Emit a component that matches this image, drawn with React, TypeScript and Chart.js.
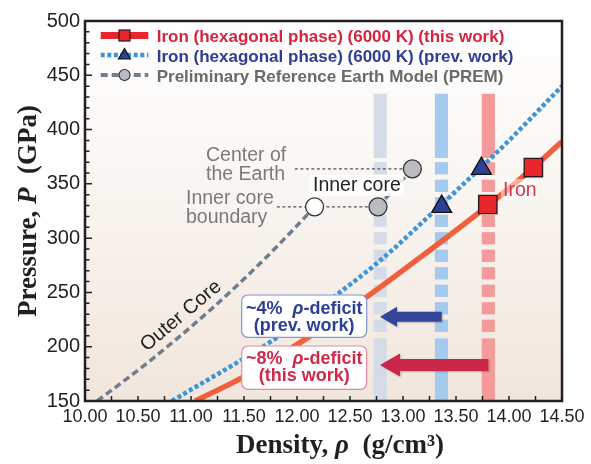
import React, { useEffect, useRef } from 'react';
import { Chart, registerables } from 'chart.js';

Chart.register(...registerables);

// ---------- axes ----------
const X_MIN = 10.0;
const X_MAX = 14.5;
const X_STEP = 0.5;
const X_MINOR_STEP = 0.25;
const Y_MIN = 150;
const Y_MAX = 500;
const Y_STEP = 50;
const Y_MINOR_STEP = 10;

// ---------- series (density g/cm3, pressure GPa) ----------
const IRON_THIS_RHO = [11.04, 11.51, 12.08, 12.66, 13.2, 13.8, 14.23, 14.5];
const IRON_THIS_P = [150, 173, 207, 246, 285, 330, 365, 389];

const IRON_PREV_RHO = [10.82, 11.82, 12.59, 12.91, 13.22, 13.54, 13.98, 14.5];
const IRON_PREV_P = [150, 209, 264, 290, 318, 347, 388, 440];

const PREM_OUTER_RHO = [10.115, 10.6, 11.19, 11.655, 12.01, 12.166];
const PREM_OUTER_P = [150, 186, 234.5, 277, 312.5, 328.85];

const PREM_INNER_RHO = [12.764, 13.0885];
const PREM_INNER_P = [328.85, 363.85];

const IRON_THIS_MARK_RHO = [13.8, 14.23];
const IRON_THIS_MARK_P = [331, 365];
const IRON_PREV_MARK_RHO = [13.365, 13.74];
const IRON_PREV_MARK_P = [329, 364];
const PREM_MARK_RHO = [12.764, 13.0885];
const PREM_MARK_P = [328.85, 363.85];
const PREM_ICB_OUTER_RHO = [12.166];
const PREM_ICB_OUTER_P = [328.85];

// leader lines from the labels
const LEADER_CENTER_RHO = [11.98, 13.0885];
const LEADER_CENTER_P = [363.85, 363.85];
const LEADER_ICB_RHO = [11.81, 12.764];
const LEADER_ICB_P = [328.85, 328.85];

// vertical density bands (PREM inner core, prev. work, this work)
const BAND_RHO = [12.785, 13.363, 13.805];
const BAND_HALF_WIDTH = 0.062;
const BAND_TOP_P = 433;
const BAND_DASH_TOP_P = 370;
const BAND_DASH_BOTTOM_P = 212;
const BAND_SOLID1_END_P = 373.8;
const BAND_SOLID2_START_P = 207.7;

// deficit arrows
const ARROW_TIP_RHO = 12.783;
const ARROW_TAIL_RHO = [13.365, 13.805];
const ARROW_P = [227.6, 183.2];

const LEGEND_LABELS = [
  'Iron (hexagonal phase) (6000 K) (this work)',
  'Iron (hexagonal phase) (6000 K) (prev. work)',
  'Preliminary Reference Earth Model (PREM)',
];

const SANS = '"Liberation Sans", Arial, Helvetica, sans-serif';
const SERIF = '"Liberation Serif", "Times New Roman", Times, serif';

const C_RED_LINE = '#f0603e';
const C_RED_MARK = '#e8262b';
const C_BLUE_LINE = '#3b95dc';
const C_BLUE_MARK = '#2f3f96';
const C_PREM = '#6e7e8e';

function pts(r: number[], p: number[]) {
  return r.map((v, i) => ({ x: v, y: p[i] }));
}

type Part = { t: string; font: string; color?: string };

function drawRich(ctx: CanvasRenderingContext2D, parts: Part[], x: number, y: number, align: 'left' | 'center', color: string) {
  let w = 0;
  for (const p of parts) {
    ctx.font = p.font;
    w += ctx.measureText(p.t).width;
  }
  let cx = align === 'center' ? x - w / 2 : x;
  ctx.textAlign = 'left';
  ctx.textBaseline = 'alphabetic';
  for (const p of parts) {
    ctx.font = p.font;
    ctx.fillStyle = p.color || color;
    ctx.fillText(p.t, cx, y);
    cx += ctx.measureText(p.t).width;
  }
  return w;
}

function roundRect(ctx: CanvasRenderingContext2D, x: number, y: number, w: number, h: number, r: number) {
  ctx.beginPath();
  ctx.moveTo(x + r, y);
  ctx.lineTo(x + w - r, y);
  ctx.arcTo(x + w, y, x + w, y + r, r);
  ctx.lineTo(x + w, y + h - r);
  ctx.arcTo(x + w, y + h, x + w - r, y + h, r);
  ctx.lineTo(x + r, y + h);
  ctx.arcTo(x, y + h, x, y + h - r, r);
  ctx.lineTo(x, y + r);
  ctx.arcTo(x, y, x + r, y, r);
  ctx.closePath();
}

function drawArrow(ctx: CanvasRenderingContext2D, tail: number, tip: number, y: number, shaft: number, head: number, headLen: number, color: string) {
  ctx.save();
  ctx.shadowColor = 'rgba(0,0,0,0.25)';
  ctx.shadowBlur = 2;
  ctx.shadowOffsetX = 1;
  ctx.shadowOffsetY = 1;
  ctx.fillStyle = color;
  ctx.beginPath();
  ctx.moveTo(tail, y - shaft / 2);
  ctx.lineTo(tip + headLen, y - shaft / 2);
  ctx.lineTo(tip + headLen, y - head / 2);
  ctx.lineTo(tip, y);
  ctx.lineTo(tip + headLen, y + head / 2);
  ctx.lineTo(tip + headLen, y + shaft / 2);
  ctx.lineTo(tail, y + shaft / 2);
  ctx.closePath();
  ctx.fill();
  ctx.restore();
}

const overlay = {
  id: 'overlay',
  beforeDraw(chart: any) {
    const { ctx, chartArea: a } = chart;
    const g = ctx.createLinearGradient(0, a.top, 0, a.bottom);
    g.addColorStop(0, '#ffffff');
    g.addColorStop(0.45, '#f9f5f1');
    g.addColorStop(1, '#f1e6dc');
    ctx.save();
    ctx.fillStyle = g;
    ctx.fillRect(a.left, a.top, a.right - a.left, a.bottom - a.top);
    ctx.restore();
  },
  beforeDatasetsDraw(chart: any) {
    const { ctx } = chart;
    const xs = chart.scales.x;
    const ys = chart.scales.y;
    const colors = ['#d4dde7', '#a4caed', '#f49a9a'];
    ctx.save();
    BAND_RHO.forEach((c, i) => {
      const x0 = xs.getPixelForValue(c - BAND_HALF_WIDTH);
      const x1 = xs.getPixelForValue(c + BAND_HALF_WIDTH);
      ctx.fillStyle = colors[i];
      const yTop = ys.getPixelForValue(BAND_TOP_P);
      const y1 = ys.getPixelForValue(BAND_SOLID1_END_P);
      ctx.fillRect(x0, yTop, x1 - x0, y1 - yTop);
      const y2 = ys.getPixelForValue(BAND_SOLID2_START_P);
      const yb = ys.getPixelForValue(Y_MIN);
      ctx.fillRect(x0, y2, x1 - x0, yb - y2);
      const d0 = ys.getPixelForValue(BAND_DASH_TOP_P);
      const d1 = ys.getPixelForValue(BAND_DASH_BOTTOM_P);
      let y = d0;
      while (y < d1 - 1) {
        const h = Math.min(12.3, d1 - y);
        ctx.fillRect(x0, y, x1 - x0, h);
        y += 17.5;
      }
    });
    ctx.restore();
  },
  afterDatasetsDraw(chart: any) {
    const { ctx, chartArea: a } = chart;
    const xs = chart.scales.x;
    const ys = chart.scales.y;
    ctx.save();

    // arrows
    const tip = xs.getPixelForValue(ARROW_TIP_RHO);
    drawArrow(ctx, xs.getPixelForValue(ARROW_TAIL_RHO[0]), tip, ys.getPixelForValue(ARROW_P[0]), 10, 20, 17, '#33449a');
    drawArrow(ctx, xs.getPixelForValue(ARROW_TAIL_RHO[1]), tip, ys.getPixelForValue(ARROW_P[1]), 12, 23, 20, '#cb2547');

    // boxes
    const bx = 241.7, bw = 125;
    ctx.fillStyle = '#ffffff';
    ctx.lineWidth = 1.2;
    roundRect(ctx, bx, 295, bw, 42.3, 6);
    ctx.fill();
    ctx.strokeStyle = '#7f98d0';
    ctx.stroke();
    roundRect(ctx, bx, 346, bw, 43.3, 6);
    ctx.fill();
    ctx.strokeStyle = '#e58a9d';
    ctx.stroke();
    const B = 'bold 18px ' + SANS;
    const BI = 'italic bold 18px ' + SANS;
    const cx = bx + bw / 2;
    drawRich(ctx, [{ t: '~4%  ', font: B }, { t: 'ρ', font: BI }, { t: '-deficit', font: B }], cx, 313.5, 'center', '#2c3f97');
    drawRich(ctx, [{ t: '(prev. work)', font: B }], cx, 330.5, 'center', '#2c3f97');
    drawRich(ctx, [{ t: '~8%  ', font: B }, { t: 'ρ', font: BI }, { t: '-deficit', font: B }], cx, 364.3, 'center', '#d02a4b');
    drawRich(ctx, [{ t: '(this work)', font: B }], cx, 381, 'center', '#d02a4b');

    // annotation labels
    const R = '19.5px ' + SANS;
    drawRich(ctx, [{ t: 'Center of', font: R }], 206, 160.7, 'left', '#7a7a7a');
    drawRich(ctx, [{ t: 'the Earth', font: R }], 206, 180, 'left', '#7a7a7a');
    drawRich(ctx, [{ t: 'Inner core', font: R }], 186, 204, 'left', '#7a7a7a');
    drawRich(ctx, [{ t: 'boundary', font: R }], 186, 222.5, 'left', '#7a7a7a');

    ctx.font = R;
    const icw = ctx.measureText('Inner core').width;
    ctx.fillStyle = 'rgba(255,255,255,0.85)';
    ctx.fillRect(310, 175, icw + 6, 21);
    drawRich(ctx, [{ t: 'Inner core', font: R }], 313, 191, 'left', '#222222');

    ctx.fillStyle = 'rgba(255,255,255,0.5)';
    ctx.fillRect(501, 179, 36, 21);
    drawRich(ctx, [{ t: 'Iron', font: R }], 503, 196, 'left', '#d8344f');

    ctx.save();
    ctx.translate(181, 316);
    ctx.rotate(-40 * Math.PI / 180);
    ctx.font = '20px ' + SANS;
    ctx.fillStyle = '#222222';
    ctx.textAlign = 'center';
    ctx.textBaseline = 'middle';
    ctx.fillText('Outer Core', 0, 0);
    ctx.restore();

    // frame
    ctx.strokeStyle = '#231f20';
    ctx.lineWidth = 2.5;
    ctx.strokeRect(a.left, a.top, a.right - a.left, a.bottom - a.top);

    // inward ticks
    ctx.lineWidth = 1.5;
    ctx.beginPath();
    for (let v = X_MIN; v <= X_MAX + 1e-9; v += X_MINOR_STEP) {
      const px = xs.getPixelForValue(v);
      ctx.moveTo(px, a.bottom);
      ctx.lineTo(px, a.bottom - 5);
    }
    for (let v = Y_MIN; v <= Y_MAX + 1e-9; v += Y_MINOR_STEP) {
      const py = ys.getPixelForValue(v);
      const major = Math.abs(v % Y_STEP) < 1e-6;
      ctx.moveTo(a.left, py);
      ctx.lineTo(a.left + (major ? 7 : 4.5), py);
    }
    ctx.stroke();

    // legend
    const LF = 'bold 17px ' + SANS;
    const lx0 = 100.7, lx1 = 148.3, lm = 124.5;
    const rows = [41.7, 61.7, 81.7];
    const mid = [35.5, 55, 75];
    // row 1
    ctx.setLineDash([]);
    ctx.strokeStyle = C_RED_MARK;
    ctx.lineWidth = 7;
    ctx.beginPath();
    ctx.moveTo(lx0, mid[0]);
    ctx.lineTo(lx1, mid[0]);
    ctx.stroke();
    ctx.fillStyle = C_RED_MARK;
    ctx.strokeStyle = '#2a1a1a';
    ctx.lineWidth = 1.2;
    ctx.fillRect(lm - 5.5, mid[0] - 5.5, 11, 11);
    ctx.strokeRect(lm - 5.5, mid[0] - 5.5, 11, 11);
    // row 2
    ctx.strokeStyle = C_BLUE_LINE;
    ctx.lineWidth = 4.5;
    ctx.setLineDash([4, 2.6]);
    ctx.beginPath();
    ctx.moveTo(lx0, mid[1]);
    ctx.lineTo(lx1, mid[1]);
    ctx.stroke();
    ctx.setLineDash([]);
    ctx.fillStyle = C_BLUE_MARK;
    ctx.strokeStyle = '#111';
    ctx.lineWidth = 1.2;
    ctx.beginPath();
    ctx.moveTo(lm, mid[1] - 6.5);
    ctx.lineTo(lm + 6, mid[1] + 4);
    ctx.lineTo(lm - 6, mid[1] + 4);
    ctx.closePath();
    ctx.fill();
    ctx.stroke();
    // row 3
    ctx.strokeStyle = C_PREM;
    ctx.lineWidth = 4;
    ctx.setLineDash([7, 4]);
    ctx.beginPath();
    ctx.moveTo(lx0, mid[2]);
    ctx.lineTo(lx1, mid[2]);
    ctx.stroke();
    ctx.setLineDash([]);
    ctx.fillStyle = '#bbbcbf';
    ctx.strokeStyle = '#333';
    ctx.lineWidth = 1.2;
    ctx.beginPath();
    ctx.arc(lm, mid[2], 5.5, 0, Math.PI * 2);
    ctx.fill();
    ctx.stroke();
    const lcols = ['#d6243e', '#2d3d94', '#6a6a6a'];
    LEGEND_LABELS.forEach((t, i) => drawRich(ctx, [{ t, font: LF }], 156.7, rows[i], 'left', lcols[i]));

    // axis titles
    const TB = 'bold 27px ' + SERIF;
    const TBI = 'italic bold 27px ' + SERIF;
    drawRich(ctx, [{ t: 'Density, ', font: TB }, { t: 'ρ', font: TBI }, { t: '  (g/cm³)', font: TB }], 340, 453, 'center', '#231f20');
    ctx.save();
    ctx.translate(36, 211);
    ctx.rotate(-Math.PI / 2);
    drawRich(ctx, [{ t: 'Pressure, ', font: TB }, { t: 'P', font: TBI }, { t: '  (GPa)', font: TB }], 0, 0, 'center', '#231f20');
    ctx.restore();

    ctx.restore();
  },
};

export default function App() {
  const ref = useRef<HTMLCanvasElement | null>(null);
  useEffect(() => {
    if (!ref.current) return;
    const lineBase = { showLine: true, pointRadius: 0, pointHoverRadius: 0, fill: false };
    const chart = new Chart(ref.current, {
      type: 'scatter',
      data: {
        datasets: [
          { label: 'ironThisMarks', data: pts(IRON_THIS_MARK_RHO, IRON_THIS_MARK_P), pointStyle: 'rect', pointRadius: 13, backgroundColor: C_RED_MARK, borderColor: '#2a1a1a', borderWidth: 1.3, order: 0 },
          { label: 'ironPrevMarks', data: pts(IRON_PREV_MARK_RHO, IRON_PREV_MARK_P), pointStyle: 'triangle', pointRadius: 11.5, backgroundColor: C_BLUE_MARK, borderColor: '#111', borderWidth: 1.3, order: 0 },
          { label: 'premMarks', data: pts(PREM_MARK_RHO, PREM_MARK_P), pointStyle: 'circle', pointRadius: 9, backgroundColor: '#bbbcbf', borderColor: '#333', borderWidth: 1.3, order: 0 },
          { label: 'premIcbOuter', data: pts(PREM_ICB_OUTER_RHO, PREM_ICB_OUTER_P), pointStyle: 'circle', pointRadius: 9, backgroundColor: '#ffffff', borderColor: '#333', borderWidth: 1.3, order: 0 },
          { ...lineBase, label: 'leaderCenter', data: pts(LEADER_CENTER_RHO, LEADER_CENTER_P), borderColor: '#555', borderWidth: 1.2, borderDash: [3, 2.5], order: 5 },
          { ...lineBase, label: 'leaderIcb', data: pts(LEADER_ICB_RHO, LEADER_ICB_P), borderColor: '#555', borderWidth: 1.2, borderDash: [3, 2.5], order: 5 },
          { ...lineBase, label: LEGEND_LABELS[0], data: pts(IRON_THIS_RHO, IRON_THIS_P), borderColor: C_RED_LINE, borderWidth: 5.5, cubicInterpolationMode: 'monotone', order: 3 },
          { ...lineBase, label: LEGEND_LABELS[1], data: pts(IRON_PREV_RHO, IRON_PREV_P), borderColor: C_BLUE_LINE, borderWidth: 4.5, borderDash: [4, 2.6], borderCapStyle: 'butt', cubicInterpolationMode: 'monotone', order: 2 },
          { ...lineBase, label: 'premOuter', data: pts(PREM_OUTER_RHO, PREM_OUTER_P), borderColor: C_PREM, borderWidth: 3.5, borderDash: [7, 4], cubicInterpolationMode: 'monotone', order: 4 },
          { ...lineBase, label: 'premInner', data: pts(PREM_INNER_RHO, PREM_INNER_P), borderColor: C_PREM, borderWidth: 3.5, borderDash: [7, 4], order: 4 },
        ] as any,
      },
      options: {
        animation: false,
        responsive: true,
        maintainAspectRatio: false,
        layout: { padding: { left: 0, right: 29, top: 21, bottom: 0 } },
        plugins: { legend: { display: false }, tooltip: { enabled: false } },
        scales: {
          x: {
            type: 'linear',
            min: X_MIN,
            max: X_MAX,
            grid: { display: false, drawTicks: false },
            border: { display: false },
            ticks: {
              stepSize: X_STEP,
              padding: 5,
              color: '#231f20',
              font: { family: SANS, size: 18 },
              callback: (v: any) => Number(v).toFixed(2),
            },
            afterFit: (s: any) => { s.height = 63; },
          },
          y: {
            type: 'linear',
            min: Y_MIN,
            max: Y_MAX,
            grid: { display: false, drawTicks: false },
            border: { display: false },
            ticks: {
              stepSize: Y_STEP,
              padding: 5,
              color: '#231f20',
              font: { family: SANS, size: 20 },
            },
            afterFit: (s: any) => { s.width = 85; },
          },
        },
      } as any,
      plugins: [overlay],
    });
    return () => chart.destroy();
  }, []);
  return (
    <div style={{ position: 'fixed', left: 0, top: 0, width: 591, height: 464, background: '#fff' }}>
      <canvas ref={ref} />
    </div>
  );
}
